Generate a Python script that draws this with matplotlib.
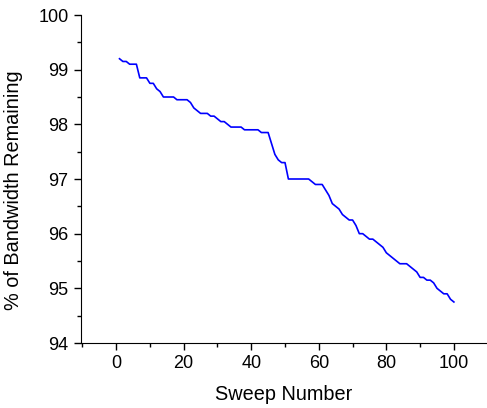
import matplotlib
matplotlib.use("Agg")
import matplotlib.pyplot as plt
import numpy as np
from matplotlib.ticker import MultipleLocator

plt.rcParams['font.family'] = ['Liberation Sans', 'DejaVu Sans']

# sweep index and remaining bandwidth (%)
sweep = list(range(1, 101))
remaining = [99.20, 99.15, 99.15, 99.10, 99.10, 99.10, 98.85, 98.85, 98.85, 98.75,
             98.75, 98.65, 98.60, 98.50, 98.50, 98.50, 98.50, 98.45, 98.45, 98.45,
             98.45, 98.40, 98.30, 98.25, 98.20, 98.20, 98.20, 98.15, 98.15, 98.10,
             98.05, 98.05, 98.00, 97.95, 97.95, 97.95, 97.95, 97.90, 97.90, 97.90,
             97.90, 97.90, 97.85, 97.85, 97.85, 97.65, 97.45, 97.35, 97.30, 97.30,
             97.00, 97.00, 97.00, 97.00, 97.00, 97.00, 97.00, 96.95, 96.90, 96.90,
             96.90, 96.80, 96.70, 96.55, 96.50, 96.45, 96.35, 96.30, 96.25, 96.25,
             96.15, 96.00, 96.00, 95.95, 95.90, 95.90, 95.85, 95.80, 95.75, 95.65,
             95.60, 95.55, 95.50, 95.45, 95.45, 95.45, 95.40, 95.35, 95.30, 95.20,
             95.20, 95.15, 95.15, 95.10, 95.00, 94.95, 94.90, 94.90, 94.80, 94.75]

fig = plt.figure(figsize=(4.87, 4.08), dpi=100)
ax = fig.add_axes([81/487, 1-343/408, 406/487, 328/408])

ax.plot(sweep, remaining, color='#0000ff', lw=1.2)

ax.set_xlim(-10.4, 109.8)
ax.set_ylim(94, 100)
ax.xaxis.set_major_locator(MultipleLocator(20))
ax.xaxis.set_minor_locator(MultipleLocator(10))
ax.yaxis.set_major_locator(MultipleLocator(1))
ax.yaxis.set_minor_locator(MultipleLocator(0.5))
ax.tick_params(which='major', direction='out', length=5, width=1, labelsize=13, pad=4)
ax.tick_params(which='minor', direction='out', length=3, width=1)
for s in ['top', 'right']:
    ax.spines[s].set_visible(False)

ax.set_xlabel('Sweep Number', fontsize=14.3, labelpad=9)
ax.set_ylabel('% of Bandwidth Remaining', fontsize=14.3)
ax.yaxis.set_label_coords(-0.143, 0.466)

fig.savefig('out.png', dpi=100)
